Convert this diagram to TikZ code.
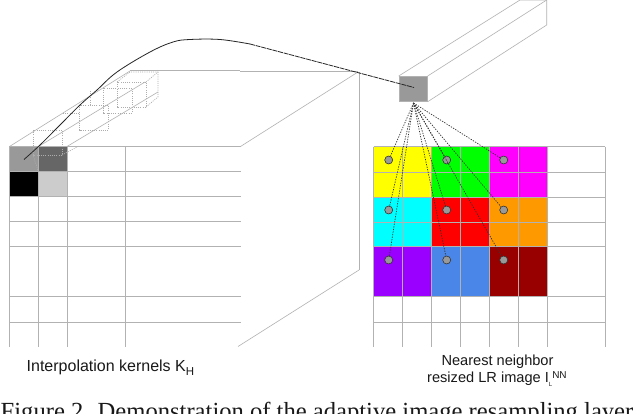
\documentclass[tikz,border=0pt]{standalone}
\usepackage{fontspec}
\setmainfont{Liberation Sans}
\newfontfamily\capfont{Liberation Serif}
\usetikzlibrary{calc}
\definecolor{gridgray}{HTML}{B2B2B2}
\definecolor{fillgray}{HTML}{999999}
\definecolor{darkgray}{HTML}{666666}
\definecolor{lightgray}{HTML}{CCCCCC}
\definecolor{yellowc}{HTML}{FFFF00}
\definecolor{greenc}{HTML}{00FF00}
\definecolor{magentac}{HTML}{FF00FF}
\definecolor{cyanc}{HTML}{00FFFF}
\definecolor{redc}{HTML}{FF0000}
\definecolor{violetc}{HTML}{9900FF}
\definecolor{bluec}{HTML}{4A86E8}
\definecolor{darkredc}{HTML}{980000}
\definecolor{orangec}{HTML}{FF9900}
\tikzset{
  gridline/.style={draw=gridgray,line width=1pt},
  wire/.style={draw=gridgray,line width=0.6pt},
  cubeline/.style={draw=lightgray!85!black,line width=0.7pt,dash pattern=on 1pt off 1.2pt},
  sample/.style={circle,draw=black!80,fill=fillgray,line width=0.6pt,minimum size=8pt,inner sep=0pt},
  ray/.style={draw=black!80,line width=0.7pt,dash pattern=on 1.3pt off 1.3pt},
  labeltext/.style={font=\fontsize{14.6}{17}\selectfont,text=black!90,inner sep=0pt},
}
\begin{document}
\begin{tikzpicture}[x=1pt,y=-1pt]
\useasboundingbox (0,0) rectangle (640,414);
\clip (0,0) rectangle (640,414);
\fill[white] (0,0) rectangle (640,414);
% --- left grid fills
\fill[fillgray] (9.5,146.5) rectangle (38.5,172);
\fill[darkgray] (38.5,146.5) rectangle (67,172);
\fill[black] (9.5,172) rectangle (38.5,197);
\fill[lightgray] (38.5,172) rectangle (67,197);
% --- dotted small cubes
\foreach \x/\y in {33/130,79.5/105,103/88,117/82}{
  \draw[cubeline] (\x,\y) rectangle ++(29,25);
}
\draw[cubeline] (63,113) -- (80,113);
\draw[cubeline] (90,105) -- (90,90);
\draw[cubeline] (158,72) -- (158,97) -- (146,107);
\draw[cubeline] (146,82) -- (158,72);
\draw[cubeline] (117,82) -- (130,72) -- (158,72);
\draw[cubeline] (62,155) -- (79,146);
\draw[cubeline] (38.5,172) -- (33,155);
% --- left kernel volume
\draw[wire] (9.5,146.5) -- (130,71);
\draw[wire] (38.5,146.5) -- (145,82);
\draw[wire] (67,146.5) -- (158,92);
\draw[gridline] (130,71) -- (240,71);
\draw[wire] (240,71) -- (358,71);
\draw[wire] (240.5,146.5) -- (358,72);
\draw[wire] (238,346.5) -- (359,270);
\draw[wire] (359,72) -- (359,270);
% --- left grid
\foreach \x in {9.5,38.5,67,125}{\draw[gridline] (\x,146.5) -- (\x,346.5);}
\foreach \y in {146.5,172,197,222,246.5,296.5,322}{\draw[gridline] (9.5,\y) -- (240.5,\y);}
% --- right grid fills
\fill[yellowc] (373.7,146.7) rectangle (431.3,197.3);
\fill[greenc] (431.3,146.7) rectangle (489.3,197.3);
\fill[magentac] (489.3,146.7) rectangle (547.3,197.3);
\fill[cyanc] (373.7,197.3) rectangle (431.3,246.7);
\fill[redc] (431.3,197.3) rectangle (489.3,246.7);
\fill[orangec] (489.3,197.3) rectangle (547.3,246.7);
\fill[violetc] (373.7,246.7) rectangle (431.3,296.7);
\fill[bluec] (431.3,246.7) rectangle (489.3,296.7);
\fill[darkredc] (489.3,246.7) rectangle (547.3,296.7);
\foreach \x in {373.7,402.7,431.3,460.7,489.3,518.7,547.3,605}{\draw[gridline] (\x,146.7) -- (\x,346.5);}
\foreach \y in {146.7,172.3,197.3,222.3,246.7,296.7,322.3}{\draw[gridline] (373.7,\y) -- (605,\y);}
% --- cuboid on the right
\node[draw=gridgray,fill=fillgray,line width=0.7pt,minimum width=28.3pt,minimum height=25pt,inner sep=0pt,anchor=north west] (pix) at (398.7,76) {};
\coordinate (backtl) at (520,0);
\coordinate (backtr) at (546.7,0);
\coordinate (backbr) at (546.7,25);
\draw[wire] (pix.north west) -- (backtl) -- (backtr) -- (backbr) -- (pix.south east);
\draw[wire] (pix.north east) -- (backtr);
% --- curve
\coordinate (curvestart) at (24,159.5);
\coordinate (curvemid) at (250,44);
\coordinate (curveend) at (414,87.5);
\draw[black!85,line width=0.8pt] plot[smooth,tension=0.6] coordinates {(curvestart) (40,145) (60,125) (80,105) (97,90) (117,72) (150,52) (173,42) (190,39.5) (220,39.5) (curvemid)};
\draw[black!85,line width=0.8pt,dash pattern=on 5pt off 0.8pt] (curvemid) -- (curveend);
% --- sample points
\foreach \n/\x/\y in {a/388.7/160,b/446.7/160,c/503.7/160,d/388.7/210,e/446.7/210,f/503.7/210,g/388.7/260,h/446.7/260,i/503.7/260}{
  \node[sample] (\n) at (\x,\y) {};
}
\coordinate (apex) at (413.5,103);
\foreach \n in {a,b,c,d,e,f,g,h,i}{\draw[ray] (apex) -- (\n);}
% --- labels
\node[labeltext,font=\fontsize{16}{18}\selectfont,anchor=base west] (lk) at (26.5,371.5) {Interpolation kernels K\raisebox{-4pt}{\fontsize{11.5}{13}\selectfont H}};
\node[labeltext,anchor=base] (ln1) at (497.5,365) {Nearest neighbor};
\node[labeltext,anchor=base west] (ln2) at (427,382.7) {resized LR image I\raisebox{-4pt}{\fontsize{6}{7}\selectfont L}\raisebox{4.5pt}{\fontsize{10}{11}\selectfont NN}};
\node[anchor=base west,inner sep=0pt,font=\capfont\fontsize{24.6}{28}\selectfont,text=black!90] (cap) at (0.5,419) {Figure 2. Demonstration of the adaptive image resampling layer};
\end{tikzpicture}
\end{document}
